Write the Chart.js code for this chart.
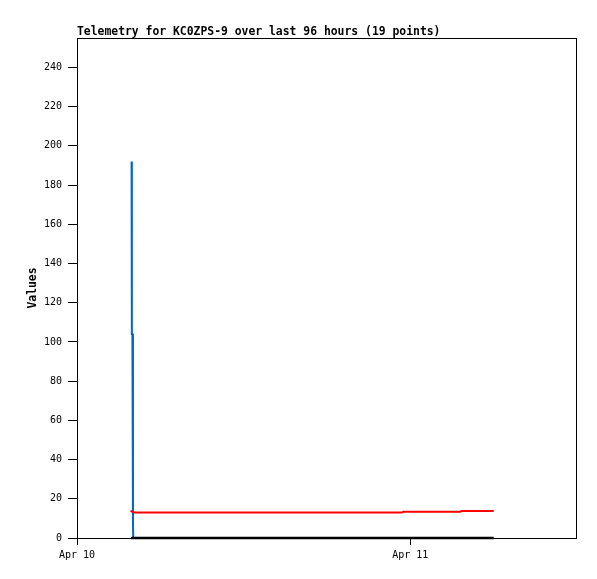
<!DOCTYPE html>
<html>
<head>
<meta charset="utf-8">
<script src="https://cdn.jsdelivr.net/npm/chart.js@4"></script>
<style>
  html, body { margin: 0; padding: 0; background: #fff; }
  #wrap { width: 597px; height: 579px; }
</style>
</head>
<body>
<div id="wrap"><canvas id="telemetryChart"></canvas></div>
<script>
// hours since Apr 10 00:00
const dayTicks = [0, 24];
const dayLabels = ['Apr 10', 'Apr 11'];
const yTicks = [0, 20, 40, 60, 80, 100, 120, 140, 160, 180, 200, 220, 240];

const blueHours = [3.93, 3.95, 3.99, 4.03, 4.05];
const blueValues = [192, 104, 104, 8, 0];

const redHours = [3.85, 4.1, 23.4, 23.5, 27.6, 27.7, 30.0];
const redValues = [13.8, 13, 13, 13.4, 13.4, 13.8, 13.8];

const blackHours = [3.9, 30.0];
const blackValues = [0, 0];

const monoFont = "'DejaVu Sans Mono', 'Liberation Mono', monospace";

const toPoints = (xs, ys) => xs.map((x, i) => ({ x: x, y: ys[i] }));

// frame, title and axis label
const framePlugin = {
  id: 'frame',
  afterDraw(chart) {
    const c = chart.ctx;
    const a = chart.chartArea;
    c.save();
    c.strokeStyle = '#000';
    c.lineWidth = 1;
    c.strokeRect(a.left + 0.5, a.top + 0.5, a.right - a.left - 1, a.bottom - a.top);
    c.fillStyle = '#000';
    c.font = 'bold 11.4px ' + monoFont;
    c.textAlign = 'left';
    c.textBaseline = 'alphabetic';
    c.fillText('Telemetry for KC0ZPS-9 over last 96 hours (19 points)', 77, 35);
    c.translate(36, (a.top + a.bottom) / 2);
    c.rotate(-Math.PI / 2);
    c.textAlign = 'center';
    c.fillText('Values', 0, 0);
    c.restore();
  }
};

const ctx = document.getElementById('telemetryChart').getContext('2d');
const chart = new Chart(ctx, {
  type: 'line',
  data: {
    datasets: [
      { label: 'black', data: toPoints(blackHours, blackValues), borderColor: '#000000', borderWidth: 2.5, order: 0, clip: false },
      { label: 'red', data: toPoints(redHours, redValues), borderColor: '#ff0000', borderWidth: 2, order: 1 },
      { label: 'blue', data: toPoints(blueHours, blueValues), borderColor: '#0066cc', borderWidth: 2, order: 2 }
    ]
  },
  options: {
    responsive: true,
    maintainAspectRatio: false,
    animation: false,
    events: [],
    layout: { padding: { top: 38, right: 20, left: 0, bottom: 0 } },
    elements: { point: { radius: 0 }, line: { tension: 0 } },
    plugins: { legend: { display: false }, tooltip: { enabled: false }, title: { display: false } },
    scales: {
      x: {
        type: 'linear',
        min: 0,
        max: 36,
        afterBuildTicks: axis => { axis.ticks = dayTicks.map(v => ({ value: v })); },
        afterFit: s => { s.height = 41; },
        grid: { drawOnChartArea: false, drawTicks: true, tickLength: 7, color: '#000' },
        border: { display: false },
        ticks: {
          padding: 4,
          maxRotation: 0,
          color: '#000',
          font: { family: monoFont, size: 10 },
          callback: v => dayLabels[dayTicks.indexOf(v)]
        }
      },
      y: {
        min: 0,
        max: 255,
        afterBuildTicks: axis => { axis.ticks = yTicks.map(v => ({ value: v })); },
        afterFit: s => { s.width = 77; },
        grid: { drawOnChartArea: false, drawTicks: true, tickLength: 9, color: '#000' },
        border: { display: false },
        ticks: {
          padding: 6,
          color: '#000',
          font: { family: monoFont, size: 10 }
        }
      }
    }
  },
  plugins: [framePlugin]
});
</script>
</body>
</html>
